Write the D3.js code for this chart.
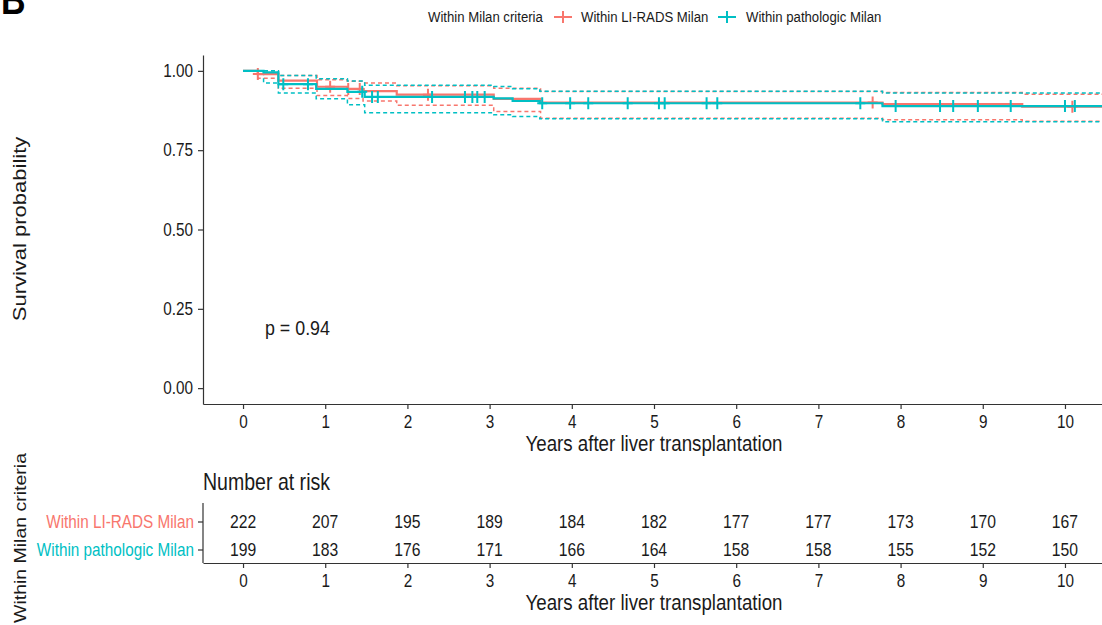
<!DOCTYPE html>
<html>
<head>
<meta charset="utf-8">
<script src="https://cdn.jsdelivr.net/npm/d3@7"></script>
<style>
  body { margin: 0; background: #fff; }
  svg { display: block; font-family: "Liberation Sans", Arial, sans-serif; }
</style>
</head>
<body>
<svg id="chart" width="1102" height="625"></svg>
<script>
// groups
var groups = ["Within LI-RADS Milan", "Within pathologic Milan"];
var colors = ["#F8766D", "#00BFC4"];

// KM steps, LI-RADS group
var liradsTime  = [0, 0.18, 0.43, 0.9, 1.27, 1.46, 1.87, 3.05, 3.62, 7.78, 9.48];
var liradsSurv  = [1, 0.99, 0.969, 0.95, 0.943, 0.936, 0.925, 0.912, 0.90, 0.895, 0.887];
var liradsUpper = [1, 1, 0.985, 0.972, 0.967, 0.962, 0.953, 0.945, 0.935, 0.932, 0.926];
var liradsLower = [1, 0.977, 0.945, 0.922, 0.913, 0.905, 0.892, 0.872, 0.851, 0.846, 0.841];
var liradsCensor = [0.18, 1.06, 1.28, 1.42, 2.25, 7.66, 10.09];

// KM steps, pathologic group
var pathTime  = [0, 0.25, 0.43, 0.89, 1.27, 1.48, 3.05, 3.28, 3.61, 7.78];
var pathSurv  = [1, 0.995, 0.958, 0.943, 0.934, 0.918, 0.913, 0.905, 0.898, 0.889];
var pathUpper = [1, 1, 0.985, 0.975, 0.968, 0.955, 0.951, 0.944, 0.936, 0.93];
var pathLower = [1, 0.962, 0.93, 0.912, 0.893, 0.868, 0.862, 0.856, 0.849, 0.84];
var pathCensor = [0.49, 0.79, 1.45, 1.57, 1.64, 2.30, 2.70, 2.79, 2.85, 2.94, 3.64, 3.98, 4.20,
                  4.68, 5.06, 5.13, 5.64, 5.77, 7.51, 7.94, 8.48, 8.64, 8.94, 9.34, 10.0, 10.12];
var lastTime = 10.5;

// number at risk
var years = [0, 1, 2, 3, 4, 5, 6, 7, 8, 9, 10];
var riskLirads = [222, 207, 195, 189, 184, 182, 177, 177, 173, 170, 167];
var riskPath   = [199, 183, 176, 171, 166, 164, 158, 158, 155, 152, 150];
var yTicks = [0, 0.25, 0.5, 0.75, 1];
var pValue = "p = 0.94";

var SX = 0.85; // picture is a bit squeezed sideways
var ink = "#1a1a1a";
var svg = d3.select("#chart");

function label(sel, x, y, s, size, anchor, fill, weight) {
  return sel.append("text")
    .attr("transform", "translate(" + x + "," + y + ") scale(" + SX + ",1)")
    .attr("font-size", size)
    .attr("text-anchor", anchor || "start")
    .attr("fill", fill || ink)
    .attr("font-weight", weight || "normal")
    .text(s);
}
function vlabel(sel, x, y, s, size) {
  return sel.append("text")
    .attr("transform", "translate(" + x + "," + y + ") rotate(-90) scale(1," + SX + ")")
    .attr("font-size", size)
    .attr("text-anchor", "middle")
    .attr("fill", ink)
    .text(s);
}
function styleAxis(g) {
  g.select(".domain").attr("stroke", "#333").attr("stroke-width", 1.2);
  g.selectAll(".tick line").attr("stroke", "#333").attr("stroke-width", 1.2);
  g.selectAll(".tick text").attr("fill", ink).attr("font-size", 18)
    .attr("font-family", "Liberation Sans, Arial, sans-serif");
}

// scales
var x = d3.scaleLinear().domain([-0.487, 10.487]).range([203, 1105]);
var y = d3.scaleLinear().domain([-0.05, 1.05]).range([404, 55]);

// ---- main panel ----
var yAxis = svg.append("g").attr("transform", "translate(203,0)")
  .call(d3.axisLeft(y).tickValues(yTicks).tickFormat(d3.format(".2f")).tickSize(5).tickPadding(5).tickSizeOuter(0));
styleAxis(yAxis);
yAxis.selectAll(".tick text").attr("transform", "scale(" + SX + ",1)").attr("x", -10 / SX);

var xAxis = svg.append("g").attr("transform", "translate(0,404)")
  .call(d3.axisBottom(x).tickValues(years).tickFormat(d3.format("d")).tickSize(5).tickPadding(6).tickSizeOuter(0));
styleAxis(xAxis);
xAxis.selectAll(".tick text").attr("transform", "scale(" + SX + ",1)");

label(svg, 654, 451, "Years after liver transplantation", 22, "middle");
vlabel(svg, 26, 229, "Survival probability", 22);
label(svg, 265, 335, pValue, 21, "start");

function steps(time, vals) {
  var pts = time.map(function (t, i) { return [t, vals[i]]; });
  pts.push([lastTime, vals[vals.length - 1]]);
  return pts;
}
var stepLine = d3.line().x(function (d) { return x(d[0]); }).y(function (d) { return y(d[1]); })
  .curve(d3.curveStepAfter);

var series = [
  { time: liradsTime, surv: liradsSurv, up: liradsUpper, lo: liradsLower, cens: liradsCensor, col: colors[0] },
  { time: pathTime, surv: pathSurv, up: pathUpper, lo: pathLower, cens: pathCensor, col: colors[1] }
];

var plot = svg.append("g");
series.forEach(function (s) {
  [s.up, s.lo].forEach(function (b) {
    plot.append("path").attr("d", stepLine(steps(s.time, b)))
      .attr("fill", "none").attr("stroke", s.col).attr("stroke-width", 1.5)
      .attr("stroke-dasharray", "4,3");
  });
});
series.forEach(function (s) {
  plot.append("path").attr("d", stepLine(steps(s.time, s.surv)))
    .attr("fill", "none").attr("stroke", s.col).attr("stroke-width", 2.2);
  s.cens.forEach(function (t) {
    var v = s.surv[d3.bisectRight(s.time, t) - 1];
    var cx = x(t), cy = y(v);
    plot.append("path").attr("d", "M" + (cx - 5) + "," + cy + "H" + (cx + 5) + "M" + cx + "," + (cy - 6) + "V" + (cy + 6))
      .attr("stroke", s.col).attr("stroke-width", 2).attr("fill", "none");
  });
});

// ---- legend ----
label(svg, 428, 22, "Within Milan criteria", 15.5);
var keyX = [563, 727], keyTextX = [581, 746];
groups.forEach(function (g, i) {
  var kx = keyX[i], ky = 17;
  svg.append("path").attr("d", "M" + (kx - 9) + "," + ky + "H" + (kx + 9) + "M" + kx + "," + (ky - 6) + "V" + (ky + 6))
    .attr("stroke", colors[i]).attr("stroke-width", 2).attr("fill", "none");
  label(svg, keyTextX[i], 22, g, 15.5);
});

// ---- B tag ----
label(svg, 1, 14, "B", 40, "start", "#000", "bold");

// ---- risk table ----
label(svg, 203, 490, "Number at risk", 23);
var rowY = d3.scalePoint().domain(groups).range([521.5, 549.5]);
var tAxisY = svg.append("g").attr("transform", "translate(203,0)")
  .call(d3.axisLeft(rowY).tickSize(5).tickPadding(4).tickSizeOuter(0));
styleAxis(tAxisY);
tAxisY.select(".domain").remove();
tAxisY.selectAll(".tick text").attr("transform", "scale(" + SX + ",1)").attr("x", -9 / SX)
  .attr("fill", function (d, i) { return colors[i]; });
svg.append("line").attr("x1", 203).attr("x2", 203).attr("y1", 503).attr("y2", 563)
  .attr("stroke", "#333").attr("stroke-width", 1.2);

var tAxisX = svg.append("g").attr("transform", "translate(0,563)")
  .call(d3.axisBottom(x).tickValues(years).tickFormat(d3.format("d")).tickSize(5).tickPadding(6).tickSizeOuter(0));
styleAxis(tAxisX);
tAxisX.selectAll(".tick text").attr("transform", "scale(" + SX + ",1)");

[riskLirads, riskPath].forEach(function (row, r) {
  row.forEach(function (n, i) {
    label(svg, x(years[i]), rowY(groups[r]) + 6.5, n, 18.5, "middle");
  });
});

label(svg, 654, 610, "Years after liver transplantation", 22, "middle");
vlabel(svg, 26, 538, "Within Milan criteria", 19.5);
</script>
</body>
</html>
